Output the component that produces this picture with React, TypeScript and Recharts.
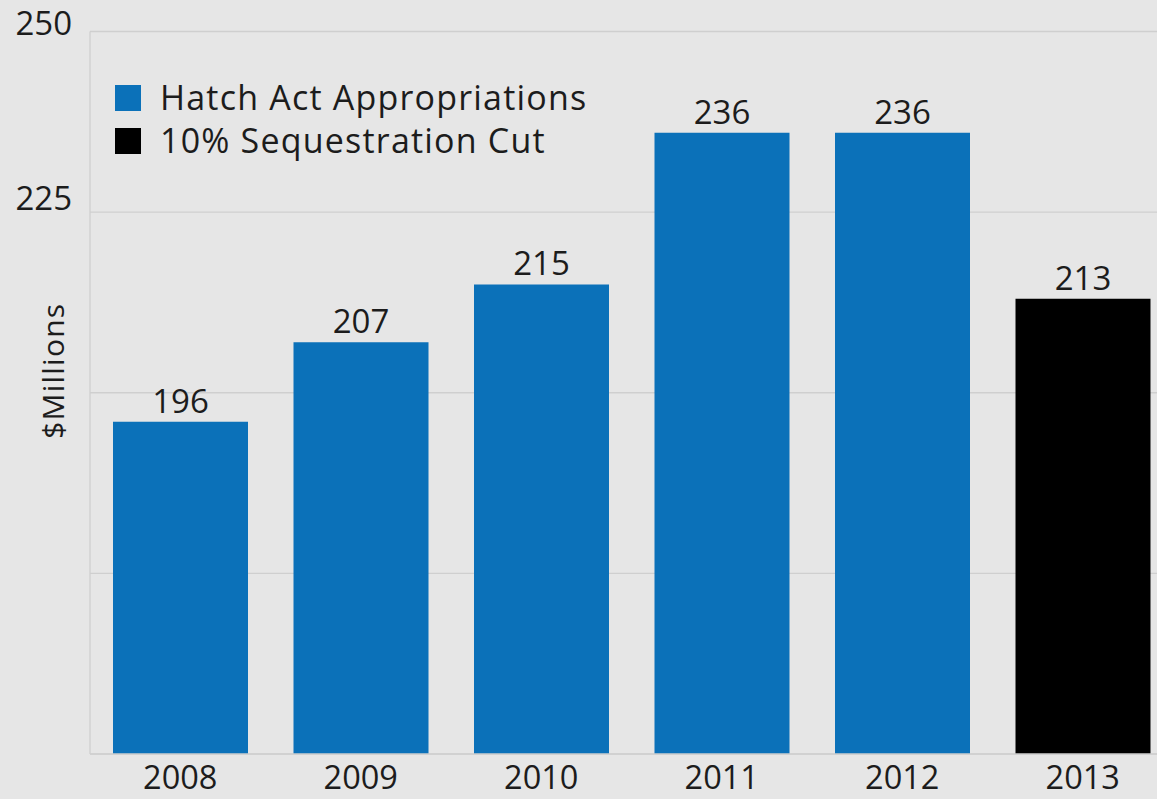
import React from 'react';
import { BarChart, Bar, XAxis, YAxis, CartesianGrid, Cell, LabelList, Legend } from 'recharts';

const years = ['2008', '2009', '2010', '2011', '2012', '2013'];
const values = [196, 207, 215, 236, 236, 213];
const seriesIndex = [0, 0, 0, 0, 0, 1];
const seriesNames = ['Hatch Act Appropriations', '10% Sequestration Cut'];
const seriesColors = ['#0b71b9', '#000000'];
const yTicks = [150, 175, 200, 225, 250];
const yTickLabels = ['', '', '', '225', '250'];

const data = years.map((year, i) => ({ year, value: values[i], s: seriesIndex[i] }));

const FONT = '"Open Sans", Lato, sans-serif';
const TEXT = '#1c1c1c';

const YTick = (props: any) => {
  const { x, y, payload } = props;
  const idx = yTicks.indexOf(payload.value);
  const label = idx >= 0 ? yTickLabels[idx] : '';
  if (!label) return null;
  const cy = Math.max(y - 15, 22);
  return (
    <text x={x} y={cy} textAnchor="end" dominantBaseline="central" fontSize={33} fill={TEXT} fontFamily={FONT}>
      {label}
    </text>
  );
};

const XTick = (props: any) => {
  const { x, y, payload } = props;
  return (
    <text x={x} y={y + 27} textAnchor="middle" fontSize={32.5} fill={TEXT} fontFamily={FONT}>
      {payload.value}
    </text>
  );
};

const YLabel = (props: any) => {
  const vb = props.viewBox || {};
  const cx = vb.x + 52;
  const cy = vb.y + vb.height / 2 - 22;
  return (
    <text x={cx} y={cy} textAnchor="middle" dominantBaseline="central" fontSize={30} letterSpacing={1.2} fill={TEXT} fontFamily={FONT} transform={`rotate(-90 ${cx} ${cy})`}>
      $Millions
    </text>
  );
};

const LegendContent = () => (
  <div style={{ fontFamily: FONT, color: TEXT }}>
    {seriesNames.map((name, i) => (
      <div key={name} style={{ display: 'flex', alignItems: 'center', height: 43 }}>
        <div style={{ width: 26, height: 26, background: seriesColors[i], marginRight: 19 }} />
        <span style={{ fontSize: 34, lineHeight: '43px', letterSpacing: 1.2 }}>{name}</span>
      </div>
    ))}
  </div>
);

export default function App() {
  return (
    <div style={{ position: 'fixed', left: 0, top: 0, width: 1157, height: 799, overflow: 'hidden', background: '#e6e6e6' }}>
      <BarChart
        width={1173}
        height={812}
        data={data}
        margin={{ top: 31.5, right: 0, left: 0, bottom: 13 }}
        style={{ fontFamily: FONT }}
      >
        <CartesianGrid vertical={false} stroke="#cfcfcf" strokeWidth={1.3} />
        <XAxis
          dataKey="year"
          height={45}
          tickLine={false}
          axisLine={{ stroke: '#cfcfcf', strokeWidth: 1.3 }}
          tick={<XTick />}
        />
        <YAxis
          width={90}
          domain={[150, 250]}
          ticks={yTicks}
          tickLine={false}
          axisLine={{ stroke: '#cfcfcf', strokeWidth: 1.3 }}
          tickMargin={12}
          tick={<YTick />}
          label={<YLabel />}
        />
        <Legend
          layout="vertical"
          align="center"
          verticalAlign="middle"
          wrapperStyle={{ left: 115, top: 76, width: 'auto', height: 'auto' }}
          content={<LegendContent />}
        />
        <Bar dataKey="value" barSize={135} isAnimationActive={false}>
          {data.map((d, i) => (
            <Cell key={i} fill={seriesColors[d.s]} />
          ))}
          <LabelList dataKey="value" position="top" offset={9} fontSize={33} fill={TEXT} fontFamily={FONT} />
        </Bar>
      </BarChart>
    </div>
  );
}
